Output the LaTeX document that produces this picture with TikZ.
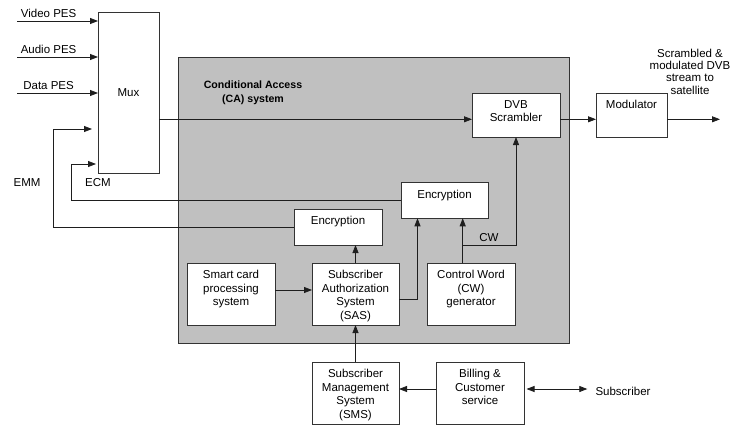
\documentclass[tikz,border=0pt]{standalone}
\usepackage{fontspec}
\setmainfont{Liberation Sans}
\usetikzlibrary{arrows.meta}
\definecolor{linecol}{HTML}{1E1E1E}
\definecolor{boxline}{HTML}{333333}
\definecolor{cafill}{HTML}{C0C0C0}

\begin{document}
\begin{tikzpicture}[x=1pt,y=-1pt,
  box/.style={draw=boxline, fill=white, line width=0.8pt, rectangle, inner sep=0pt, outer sep=0pt},
  txt/.style={font=\fontsize{11.5}{13.6}\selectfont, align=center, inner sep=0pt, text=black},
  toptxt/.style={txt, anchor=north, yshift=-7pt},
  conn/.style={draw=linecol, line width=0.8pt},
  arr/.style={conn, -{Triangle[length=8pt,width=6pt]}},
  darr/.style={conn, {Triangle[length=8pt,width=6pt]}-{Triangle[length=8pt,width=6pt]}},
]
\useasboundingbox (0,0) rectangle (741,425);

% Conditional access system area
\node[draw=boxline, fill=cafill, line width=0.8pt, rectangle, inner sep=0pt, outer sep=0pt,
      minimum width=391pt, minimum height=286pt] (ca) at (373.5,200) {};
\node[font=\bfseries\fontsize{10.6}{14}\selectfont, align=center, inner sep=0pt] (catitle) at (253,93)
  {Conditional Access\\(CA) system};

% Boxes
\node[box, minimum width=61pt, minimum height=161pt] (mux) at (128.5,92.5) {};
\node[txt] (muxt) at (mux.center) {Mux};

\node[box, minimum width=88pt, minimum height=44pt] (dvb) at (516,115) {};
\node[toptxt] (dvbt) at (dvb.north) {DVB\\Scrambler};

\node[box, minimum width=71pt, minimum height=44pt] (mod) at (631.5,115) {};
\node[toptxt] (modt) at (mod.north) {Modulator};

\node[box, minimum width=87pt, minimum height=35.5pt] (enc1) at (444.5,200.5) {};
\node[toptxt] (enc1t) at (enc1.north) {Encryption};

\node[box, minimum width=88pt, minimum height=36pt] (enc2) at (338,227) {};
\node[toptxt] (enc2t) at (enc2.north) {Encryption};

\node[box, minimum width=88pt, minimum height=62pt] (card) at (231,294) {};
\node[toptxt] (cardt) at (card.north) {Smart card\\processing\\system};

\node[box, minimum width=87pt, minimum height=62pt] (sas) at (355.5,294) {};
\node[toptxt] (sast) at (sas.north) {Subscriber\\Authorization\\System\\(SAS)};

\node[box, minimum width=88pt, minimum height=62pt] (cwg) at (471,294) {};
\node[toptxt] (cwgt) at (cwg.north) {Control Word\\(CW)\\generator};

\node[box, minimum width=87pt, minimum height=62pt] (sms) at (355.5,393) {};
\node[toptxt] (smst) at (sms.north) {Subscriber\\Management\\System\\(SMS)};

\node[box, minimum width=88pt, minimum height=62pt] (bill) at (480,393) {};
\node[toptxt] (billt) at (bill.north) {Billing \&\\Customer\\service};

% Free-standing labels
\node[txt] (subs) at (623,391) {Subscriber};
\node[txt, font=\fontsize{11.5}{12.4}\selectfont] (outtxt) at (690,71.5)
  {Scrambled \&\\modulated DVB\\stream to\\satellite};
\node[txt] (emm) at (27,183) {EMM};
\node[txt] (ecm) at (98,183) {ECM};
\node[txt] (cwl) at (489,238) {CW};

% Elementary stream inputs to the multiplexer
\coordinate (vin) at (17,21);
\coordinate (ain) at (17,57);
\coordinate (din) at (17,93);
\draw[arr] (vin) -- (vin -| mux.west) node[txt, pos=0.39, above=3pt] {Video PES};
\draw[arr] (ain) -- (ain -| mux.west) node[txt, pos=0.39, above=3pt] {Audio PES};
\draw[arr] (din) -- (din -| mux.west) node[txt, pos=0.39, above=3pt] {Data PES};

% Transport path
\coordinate (dvbin) at ([yshift=-4.3pt]dvb.west);
\coordinate (outend) at (720,119.3);
\draw[arr] (mux.east |- dvbin) -- (dvbin);
\draw[arr] (dvb.east |- dvbin) -- (mod.west |- dvbin);
\draw[arr] (mod.east |- dvbin) -- (outend);

% Entitlement messages back to the multiplexer
\coordinate (emmend) at (92,129);
\coordinate (ecmend) at (96,164);
\draw[arr] (enc2.west) -| ([xshift=-39pt]emmend) -- (emmend);
\draw[arr] (enc1.west) -| ([xshift=-25pt]ecmend) -- (ecmend);

% Control word distribution
\coordinate (cwout) at ([xshift=-8.3pt]cwg.north);
\coordinate (cwbr) at ([yshift=18pt]cwout);
\draw[arr] (cwout) -- (cwout |- enc1.south);
\draw[arr] (cwbr) -| (dvb.south);

% Subscriber authorization links
\coordinate (e1in) at ([xshift=-27pt]enc1.south);
\draw[arr] (sas.north) -- (sas.north |- enc2.south);
\draw[arr] ([yshift=-5.3pt]sas.east) -| (e1in);
\draw[arr] ([yshift=4pt]card.east) -- ([yshift=4pt]sas.west);

% Management chain
\coordinate (subsl) at ([xshift=-8pt,yshift=2pt]subs.west);
\draw[arr] (sms.north) -- (sas.south);
\draw[arr] ([yshift=4pt]bill.west) -- ([yshift=4pt]sms.east);
\draw[darr] ([xshift=2.5pt]bill.east |- subsl) -- (subsl);
\end{tikzpicture}
\end{document}
